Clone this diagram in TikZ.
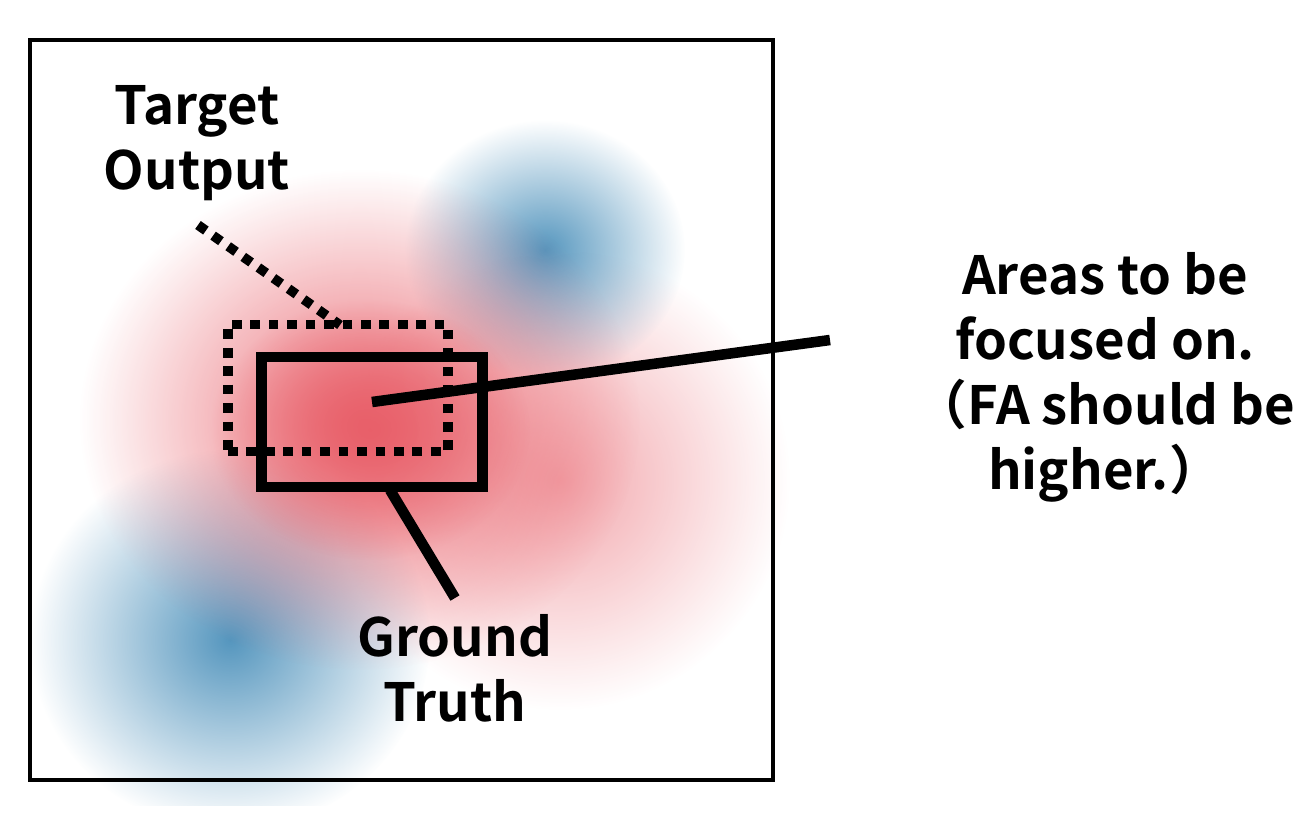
\documentclass[tikz,border=0pt]{standalone}
\usepackage{fontspec}
\newfontfamily\jp{Noto Sans CJK JP}[BoldFont={* Bold}]
\usetikzlibrary{fadings}
\tikzfading[name=blob, inner color=transparent!0, outer color=transparent!100]
\begin{document}
\begin{tikzpicture}[x=0.02cm,y=-0.02cm,
  lbl/.style={font=\jp\bfseries\fontsize{30}{37}\selectfont,align=center,inner sep=0pt},
  thick line/.style={line width=6pt},
  dots/.style={line width=5.5pt,dash pattern=on 5.5pt off 5pt}]
\useasboundingbox (0,0) rectangle (1306,816);
\definecolor{bl}{RGB}{85,150,190}
\definecolor{rd}{RGB}{232,95,105}
% blobs
\begin{scope}
\clip (20,20) rectangle (790,805);
\fill[rd!70,path fading=blob,opacity=0.8] (560,480) ellipse (230 and 230);
\fill[bl,path fading=blob] (545,250) ellipse (140 and 130);
\fill[bl,path fading=blob] (230,640) ellipse (200 and 190);
\fill[rd,path fading=blob,opacity=0.9] (360,420) ellipse (280 and 250);
\fill[rd,path fading=blob] (370,430) ellipse (160 and 130);
\end{scope}
\draw[line width=2pt] (30,40) rectangle (773,780);
% boxes
\node[draw,dots,minimum width=220*0.02cm,minimum height=127*0.02cm,inner sep=0pt] (to) at (338,388) {};
\node[draw,thick line,minimum width=221*0.02cm,minimum height=130*0.02cm,inner sep=0pt] (gt) at (372,422) {};
\coordinate (c) at (372,402);
% labels
\node[lbl] (tl) at (197,143) {Target\\Output};
\node[lbl] (al) at (1105,377) {Areas to be\\focused on.\\（FA should be\\higher.）};
\node[lbl] (gl) at (455,668) {Ground\\Truth};
\coordinate (a1) at (198,225);
\coordinate (a2) at (340,325);
\coordinate (b1) at (830,340);
\coordinate (g1) at (390,490);
\coordinate (g2) at (455,598);
\draw[dots] (a1) -- (a2);
\draw[thick line] (c) -- (b1);
\draw[thick line] (g1) -- (g2);
\end{tikzpicture}
\end{document}
